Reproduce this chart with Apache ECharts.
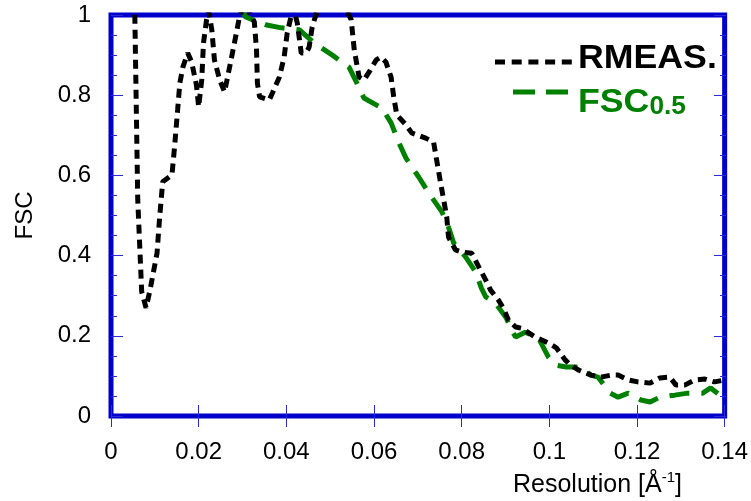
<!DOCTYPE html>
<html>
<head>
<meta charset="utf-8">
<script src="https://cdn.jsdelivr.net/npm/echarts@6/dist/echarts.min.js"></script>
<style>html,body{margin:0;padding:0;background:#fff}#c{width:751px;height:501px}</style>
</head>
<body>
<div id="c"></div>
<script>
var xTickLabels = ['0','0.02','0.04','0.06','0.08','0.1','0.12','0.14'];
var yTickLabels = ['0','0.2','0.4','0.6','0.8','1'];

var rmeasX = [0.0050,0.0061,0.0070,0.0080,0.0089,0.0105,0.0111,0.0118,0.0139,0.0145,0.0152,0.0157,0.0164,0.0175,0.0184,0.0195,0.0200,0.0207,0.0211,0.0218,0.0223,0.0230,0.0236,0.0248,0.0259,0.0266,0.0277,0.0286,0.0293,0.0305,0.0327,0.0332,0.0334,0.0339,0.0361,0.0368,0.0384,0.0395,0.0402,0.0409,0.0416,0.0425,0.0434,0.0445,0.0452,0.0459,0.0466,0.0500,0.0548,0.0555,0.0566,0.0577,0.0589,0.0605,0.0616,0.0627,0.0639,0.0645,0.0652,0.0673,0.0686,0.0718,0.0736,0.0743,0.0752,0.0759,0.0766,0.0770,0.0786,0.0800,0.0823,0.0839,0.0855,0.0866,0.0884,0.0895,0.0907,0.0923,0.0936,0.0968,0.0998,0.1016,0.1036,0.1048,0.1066,0.1095,0.1118,0.1141,0.1157,0.1180,0.1202,0.1230,0.1252,0.1275,0.1289,0.1309,0.1332,0.1355,0.1377,0.1400];
var rmeasY = [1.30,0.54,0.31,0.27,0.314,0.406,0.496,0.584,0.601,0.671,0.763,0.830,0.870,0.905,0.883,0.825,0.771,0.838,0.930,0.988,1.01,0.963,0.888,0.838,0.808,0.845,0.905,0.955,0.995,1.03,0.983,0.913,0.830,0.796,0.788,0.805,0.845,0.895,0.955,0.988,1.02,0.980,0.905,0.905,0.920,0.970,0.995,1.10,0.988,0.913,0.845,0.838,0.858,0.888,0.895,0.883,0.845,0.796,0.751,0.726,0.706,0.693,0.683,0.638,0.581,0.539,0.496,0.446,0.414,0.409,0.406,0.372,0.339,0.314,0.289,0.269,0.239,0.222,0.219,0.197,0.182,0.170,0.140,0.127,0.115,0.102,0.097,0.102,0.102,0.090,0.085,0.082,0.095,0.097,0.077,0.077,0.090,0.092,0.085,0.090];

var fscX = [0.0295,0.0307,0.0355,0.0389,0.0430,0.0464,0.0505,0.0543,0.0561,0.0577,0.0618,0.0639,0.0657,0.0673,0.0702,0.0725,0.0755,0.0770,0.0782,0.0809,0.0832,0.0845,0.0855,0.0877,0.0902,0.0914,0.0923,0.0945,0.0975,0.0998,0.1014,0.1039,0.1073,0.1095,0.1111,0.1139,0.1157,0.1180,0.1209,0.1230,0.1252,0.1286,0.1316,0.1350,0.1368,0.1389,0.1400];
var fscY = [1.02,0.995,0.975,0.968,0.963,0.930,0.900,0.870,0.830,0.793,0.768,0.731,0.681,0.643,0.596,0.556,0.509,0.471,0.431,0.397,0.359,0.319,0.297,0.282,0.244,0.214,0.197,0.209,0.195,0.147,0.127,0.122,0.122,0.102,0.097,0.057,0.047,0.057,0.040,0.035,0.047,0.052,0.057,0.057,0.070,0.052,0.045];

function pairs(xs, ys){ var o=[]; for(var i=0;i<xs.length;i++) o.push([xs[i], ys[i]]); return o; }

var BLUE = '#0000cc';
var TICK = '#2a2ad8';
var FONT = '"Liberation Sans", Arial, Helvetica, sans-serif';
var GL = 111, GR = 25, GT = 15, GB = 85, W = 751, H = 501;
var GW = W - GL - GR, GH = H - GT - GB;

var chart = echarts.init(document.getElementById('c'), null, {renderer:'canvas'});
var tickStyle = {color: TICK, width: 1};

chart.setOption({
  animation: false,
  backgroundColor: '#fff',
  grid: {left: GL, right: GR, top: GT, bottom: GB, show: true, borderColor: BLUE, borderWidth: 5, backgroundColor: 'transparent'},
  xAxis: [
    {type:'value', min:0, max:0.14, interval:0.02, position:'bottom',
     axisLine:{show:false}, splitLine:{show:false},
     axisTick:{show:true, inside:true, length:11, lineStyle:tickStyle},
     axisLabel:{fontSize:24, fontFamily:FONT, color:'#000', margin:24,
       formatter:function(v){ var i=Math.round(v/0.02); return xTickLabels[i]; }}},
    {type:'value', min:0, max:0.14, interval:0.02, position:'top',
     axisLine:{show:false}, splitLine:{show:false},
     axisTick:{show:true, inside:true, length:11, lineStyle:tickStyle},
     axisLabel:{show:false}}
  ],
  yAxis: [
    {type:'value', min:0, max:1, interval:0.2, position:'left',
     axisLine:{show:false}, splitLine:{show:false},
     axisTick:{show:true, inside:true, length:12, lineStyle:tickStyle},
     minorTick:{show:true, splitNumber:4, length:6, lineStyle:tickStyle},
     axisLabel:{fontSize:24, fontFamily:FONT, color:'#000', margin:20,
       formatter:function(v){ var i=Math.round(v/0.2); return yTickLabels[i]; }},
     name:'FSC', nameLocation:'middle', nameGap:74, nameRotate:90,
     nameTextStyle:{fontSize:24, fontFamily:FONT, color:'#000'}},
    {type:'value', min:0, max:1, interval:0.2, position:'left', offset:-GW,
     axisLine:{show:false}, splitLine:{show:false},
     axisTick:{show:true, inside:false, length:12, lineStyle:tickStyle},
     minorTick:{show:true, splitNumber:4, length:6, lineStyle:tickStyle},
     axisLabel:{show:false}}
  ],
  series: [
    {name:'RMEAS.', type:'line', xAxisIndex:0, yAxisIndex:0, data:pairs(rmeasX, rmeasY),
     showSymbol:false, symbol:'none', clip:true, z:3,
     lineStyle:{color:'#000', width:5, type:[9,6], cap:'butt'}},
    {name:'FSC0.5', type:'line', xAxisIndex:0, yAxisIndex:0, data:pairs(fscX, fscY),
     showSymbol:false, symbol:'none', clip:true, z:2,
     lineStyle:{color:'#008000', width:5, type:[20,12], cap:'butt'}}
  ],
  graphic: [
    {type:'text', left:513, top:470, z:10,
     style:{text:'{a|Resolution [Å}{s|-1}{a|]}', fill:'#000',
       rich:{a:{fontSize:25, fontFamily:FONT, lineHeight:30, fill:'#000'},
             s:{fontSize:15, fontFamily:FONT, lineHeight:14, verticalAlign:'top', fill:'#000'}}}},
    {type:'line', z:10, shape:{x1:495, y1:62, x2:573, y2:62},
     style:{stroke:'#000', lineWidth:5, lineDash:[10,6.7]}},
    {type:'text', z:10, x:578, y:59, scaleX:1.05,
     style:{text:'RMEAS.', fontSize:34, fontWeight:'bold', fontFamily:FONT, fill:'#000', align:'left', verticalAlign:'middle'}},
    {type:'line', z:10, shape:{x1:513, y1:92, x2:568, y2:92},
     style:{stroke:'#008000', lineWidth:5, lineDash:[22,11]}},
    {type:'text', z:10, x:578, y:86, scaleX:1.05,
     style:{text:'{a|FSC}{b|0.5}', fill:'#008000', align:'left', verticalAlign:'top',
       rich:{a:{fontSize:34, fontWeight:'bold', fontFamily:FONT, lineHeight:34, fill:'#008000'},
             b:{fontSize:25, fontWeight:'bold', fontFamily:FONT, lineHeight:10, verticalAlign:'bottom', fill:'#008000'}}}}
  ]
});
</script>
</body>
</html>
